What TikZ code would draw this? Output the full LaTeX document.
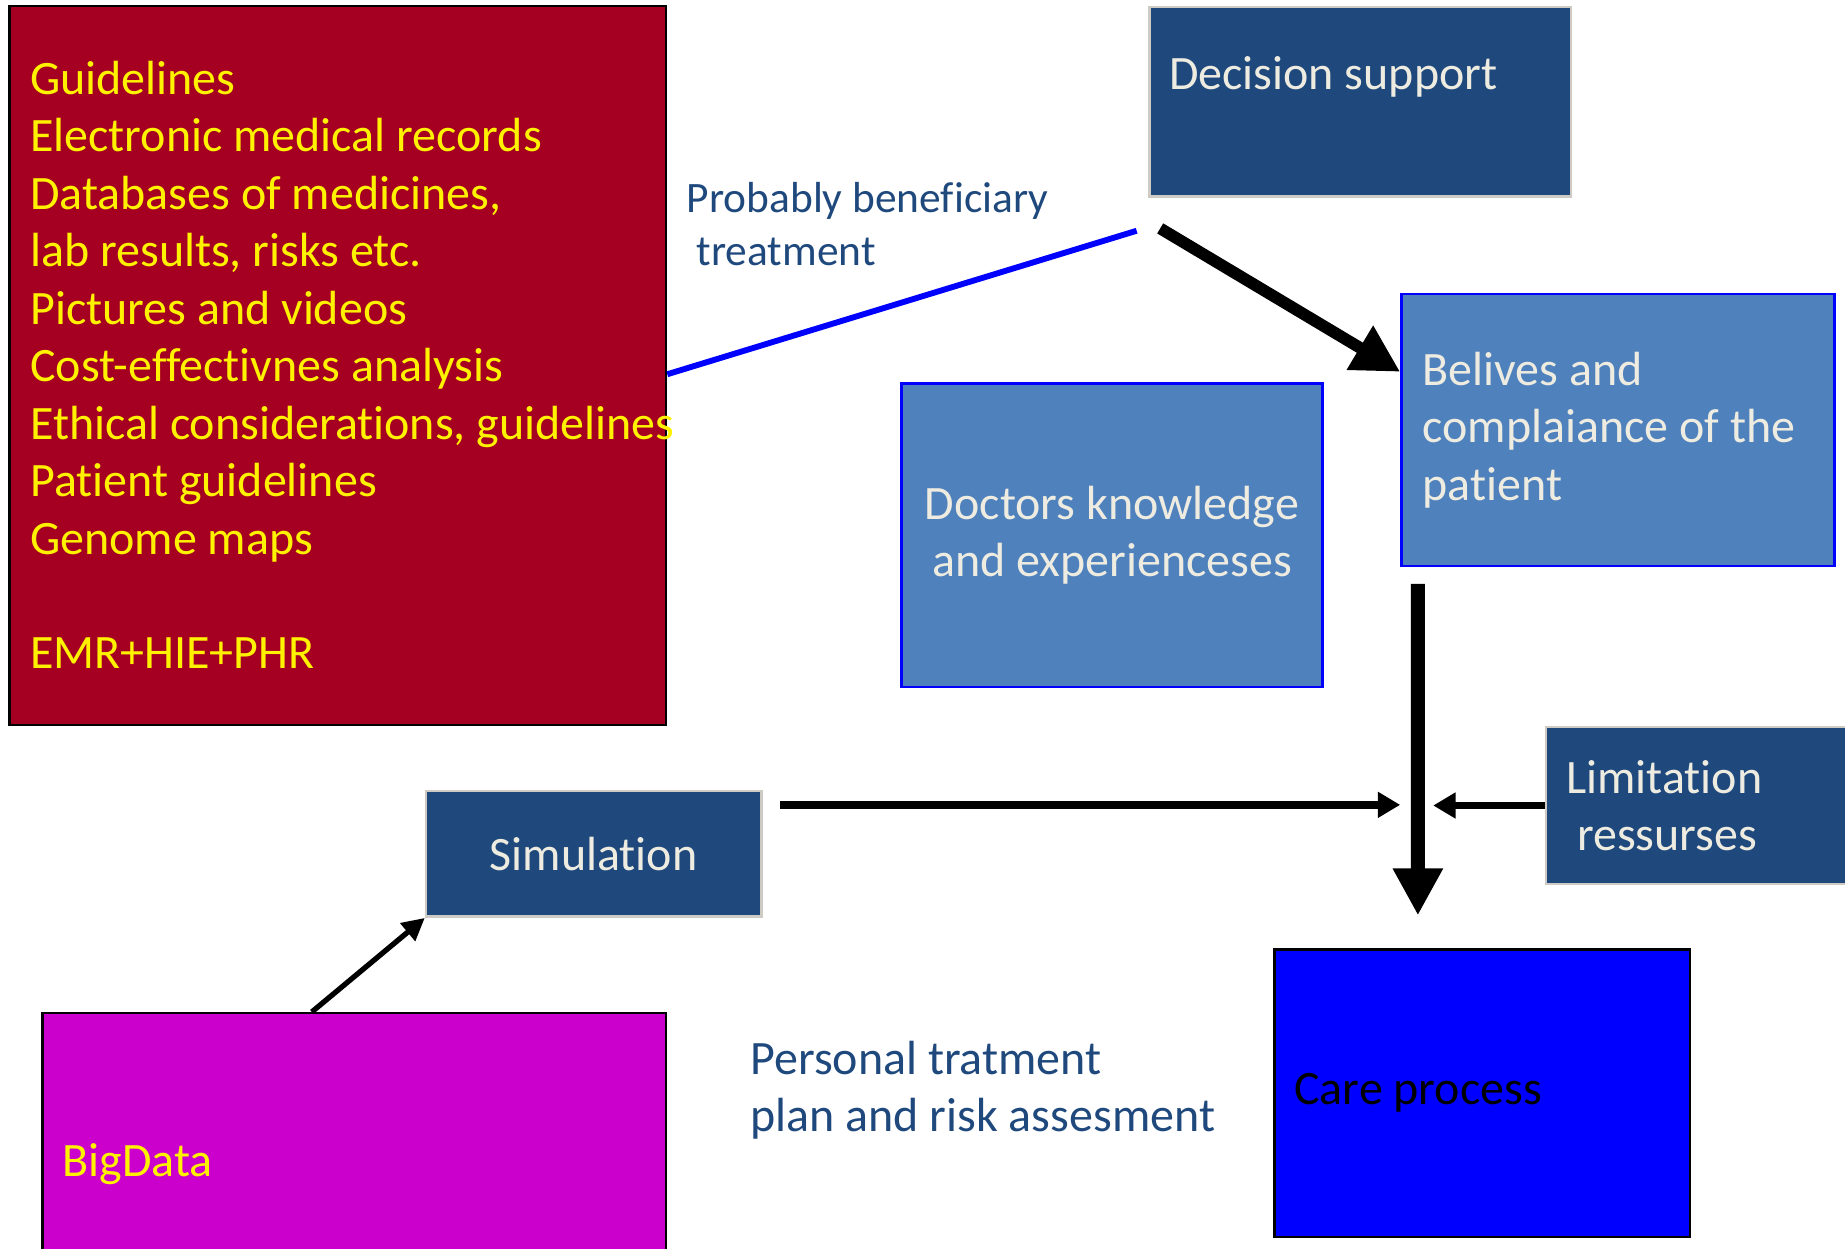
\documentclass[tikz,border=0pt]{standalone}
\usepackage{fontspec}
\setmainfont{Carlito}[RawFeature=-liga]
\usepackage{xcolor}
\usepackage{tikz}
\usetikzlibrary{positioning,calc,arrows.meta}
\definecolor{srcred}{HTML}{A50021}
\definecolor{navy}{HTML}{1F497D}
\definecolor{steel}{HTML}{4F81BD}
\definecolor{cream}{HTML}{EEECE1}
\definecolor{bigpink}{HTML}{CC00CC}
\tikzset{
    box/.style={rectangle, draw, line width=0.6pt, inner sep=0pt, anchor=north west},
    navybox/.style={box, fill=navy, draw=cream!70!gray, text=cream},
    steelbox/.style={box, fill=steel, draw=blue, text=cream},
    bigtext/.style={font=\fontsize{11.6}{13.9}\selectfont},
    smalltext/.style={font=\fontsize{10.5}{12.8}\selectfont},
    thinarrow/.style={line width=0.065cm, -{Triangle[length=0.19cm,width=0.21cm]}},
}

\begin{document}
\begin{tikzpicture}
    \useasboundingbox (0,0) rectangle (15.68,10.61);
    \clip (0,0) rectangle (15.68,10.61);

    \node[box, fill=srcred, minimum width=5.58cm, minimum height=6.11cm] (src) at (0.07,10.57) {};
    \node[bigtext, text=yellow, align=left, anchor=north west, inner sep=0pt] (srctext) at (0.25,10.10)
        {Guidelines\\Electronic medical records\\Databases of medicines,\\lab results, risks etc.\\Pictures and videos\\Cost-effectivnes analysis\\Ethical considerations, guidelines\\Patient guidelines\\Genome maps\\\mbox{}\\EMR+HIE+PHR};

    \node[navybox, minimum width=3.58cm, minimum height=1.61cm] (dec) at (9.76,10.56) {};
    \node[bigtext, text=cream, anchor=base west, inner sep=0pt] (dectext) at ($(dec.north west)+(0.17,-0.71)$) {Decision support};

    \node[smalltext, text=navy, align=left, anchor=north west, inner sep=0pt] (benefit) at (5.83,9.07)
        {Probably beneficiary\\\ treatment};

    \node[steelbox, bigtext, text width=3.32cm, inner xsep=0.18cm, minimum height=2.31cm, align=flush left] (belief) at (11.90,8.12)
        {Belives and\\complaiance of the\\patient};
    \node[steelbox, bigtext, minimum width=3.58cm, minimum height=2.58cm, align=center] (doctor) at (7.65,7.36)
        {Doctors knowledge\\and experienceses};
    \node[navybox, bigtext, text width=3.26cm, inner xsep=0.17cm, minimum height=1.33cm, align=flush left] (lim) at (13.13,4.44)
        {Limitation\\\ ressurses};
    \node[navybox, bigtext, minimum width=2.85cm, minimum height=1.07cm] (sim) at (3.61,3.90) {Simulation};
    \node[box, fill=bigpink, bigtext, text=yellow, text width=4.96cm, inner xsep=0.17cm, minimum height=2.56cm, align=flush left] (big) at (0.35,2.01) {BigData};
    \node[box, fill=blue, bigtext, text=black, text width=3.19cm, inner xsep=0.17cm, minimum height=2.44cm, align=flush left] (care) at (10.82,2.55) {Care process};

    \node[bigtext, text=navy, align=left, anchor=north west, inner sep=0pt] (plan) at (6.37,1.77)
        {Personal tratment\\plan and risk assesment};

    \coordinate (decleft) at ($(dec.south west)+(-0.10,-0.28)$);
    \coordinate (decright) at ($(dec.south west)+(0.10,-0.26)$);
    \coordinate (simout) at ($(sim.north east)+(0.15,-0.13)$);

    \draw[blue, line width=0.05cm] ($(src.east)+(0,-0.075)$) -- (decleft);
    \draw[line width=0.1cm, -{Triangle[length=0.4cm,width=0.41cm]}] (decright) -- ($(belief.north west)+(0,-0.67)$);
    \draw[line width=0.12cm, -{Triangle[length=0.4cm,width=0.4cm]}] ($(belief.south west)+(0.15,-0.14)$) -- ($(care.north west)+(1.23,0.28)$);
    \draw[thinarrow] (simout) -- (simout -| belief.west);
    \draw[thinarrow] (lim.west) -- ++(-0.95,0);
    \draw[line width=0.045cm, -{Triangle[length=0.19cm,width=0.19cm]}] ($(big.north west)+(2.30,0)$) -- (sim.south west);
\end{tikzpicture}
\end{document}
